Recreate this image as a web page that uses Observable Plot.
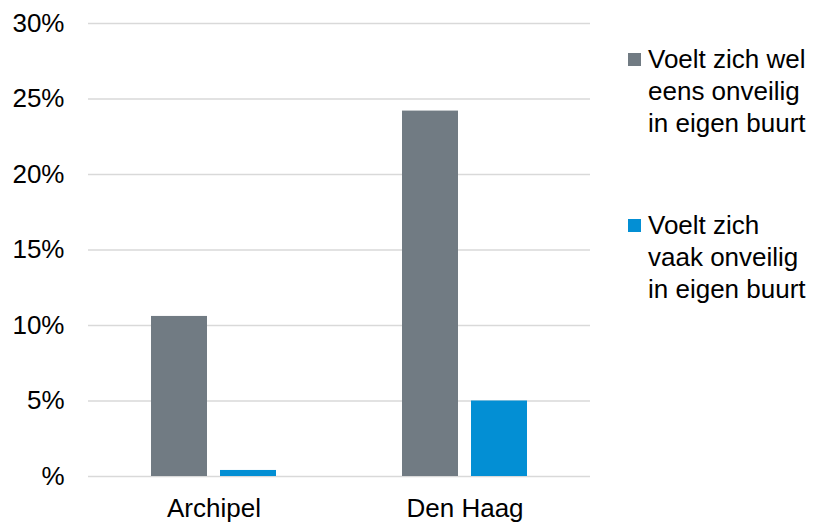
<!DOCTYPE html>
<html>
<head>
<meta charset="utf-8">
<script src="https://cdn.jsdelivr.net/npm/d3@7"></script>
<script src="https://cdn.jsdelivr.net/npm/@observablehq/plot@0.6"></script>
<style>
  html, body { margin: 0; padding: 0; background: #fff; }
  #wrap { position: relative; width: 815px; height: 522px; font-family: "Liberation Sans", Arial, sans-serif; }
  .leg { position: absolute; left: 628px; width: 187px; font-size: 26px; line-height: 32px; color: #000; }
  .leg .sw { position: absolute; left: 0; top: 10px; width: 13px; height: 13px; }
  .leg .tx { position: absolute; left: 20px; top: 0; width: 167px; }
</style>
</head>
<body>
<div id="wrap"></div>
<script>
const categories = ["Archipel", "Den Haag"];
const series = ["Voelt zich wel eens onveilig in eigen buurt", "Voelt zich vaak onveilig in eigen buurt"];
const colors = ["#717b83", "#038fd4"];
const welEens = [10.6, 24.2];
const vaak = [0.4, 5.0];
const yTicks = [0, 5, 10, 15, 20, 25, 30];
const yTickLabels = ["%", "5%", "10%", "15%", "20%", "25%", "30%"];

const values = [welEens, vaak];
const data = [];
categories.forEach((c, i) => series.forEach((s, j) => data.push({category: c, series: s, value: values[j][i]})));

const chart = Plot.plot({
  width: 815,
  height: 522,
  marginLeft: 88,
  marginRight: 225,
  marginTop: 23,
  marginBottom: 46,
  style: {fontSize: "26px", fontFamily: "Liberation Sans, Arial, sans-serif", color: "#000", background: "#fff"},
  fx: {domain: categories, padding: 0, label: null, tickSize: 0, tickPadding: 22, axis: "bottom"},
  x: {domain: series, paddingInner: 0.186, paddingOuter: 0.886, axis: null},
  y: {domain: [0, 30], axis: null},
  color: {domain: series, range: colors},
  marks: [
    Plot.ruleY(yTicks, {stroke: "#d9d9d9", strokeWidth: 1.5}),
    Plot.barY(data, {fx: "category", x: "series", y: "value", fill: "series"}),
    Plot.axisY({ticks: yTicks, tickFormat: d => yTickLabels[yTicks.indexOf(d)], tickSize: 0, tickPadding: 24, label: null, fontSize: 26})
  ]
});
const wrap = document.getElementById("wrap");
wrap.appendChild(chart);

const legTops = [43, 209];
series.forEach((s, i) => {
  const item = document.createElement("div");
  item.className = "leg";
  item.style.top = legTops[i] + "px";
  const sw = document.createElement("div");
  sw.className = "sw";
  sw.style.background = colors[i];
  const tx = document.createElement("div");
  tx.className = "tx";
  tx.textContent = s;
  item.appendChild(sw);
  item.appendChild(tx);
  wrap.appendChild(item);
});
</script>
</body>
</html>
